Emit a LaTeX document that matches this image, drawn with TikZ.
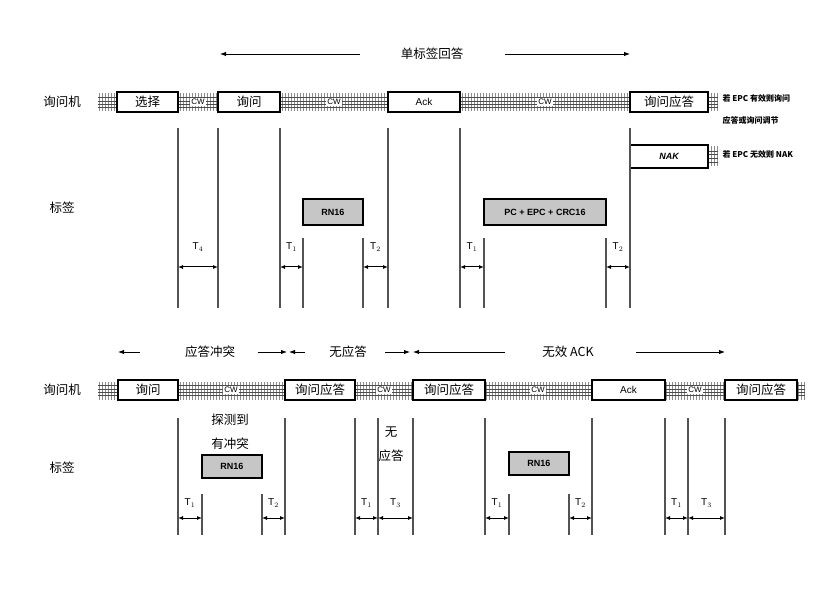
\documentclass[tikz,border=0pt]{standalone}
\usepackage{fontspec}
\setmainfont{Liberation Sans}
\newfontfamily\cjk{Noto Sans CJK SC}
\usetikzlibrary{patterns,arrows.meta}
\begin{document}
\begin{tikzpicture}[x=1pt,y=-1pt,
  msg/.style={draw,line width=1.4pt,fill=white,minimum height=20pt,inner sep=0pt,font=\cjk\fontsize{12.5}{12.5}\selectfont},
  tag/.style={draw,line width=1.4pt,fill=gray!45,inner sep=0pt,font=\bfseries\fontsize{9}{9}\selectfont},
  cw/.style={fill=white,inner sep=1.5pt,font=\fontsize{8}{8}\selectfont},
  vl/.style={gray!65!black,line width=1.1pt},
  dim/.style={{Latex[length=5pt,width=4pt]}-{Latex[length=5pt,width=4pt]},line width=1pt},
  tl/.style={font=\fontsize{10}{10}\selectfont},
  lab/.style={font=\cjk\fontsize{12.5}{12.5}\selectfont},
  ti/.style={-{Latex[length=6pt]},line width=0.9pt}]
\newcommand\myband[4]{%
  \fill[pattern=vertical lines,pattern color=black!45] (#1,#2) rectangle (#3,#4);
  \foreach \yy in {0.2,0.4,0.6,0.8} \draw[black!70,line width=0.5pt] (#1,{#2+\yy*(#4-#2)}) -- (#3,{#2+\yy*(#4-#2)});}
\useasboundingbox (0,0) rectangle (831,599);
% ---------------- top ----------------
\node[lab] (t1) at (432,54) {单标签回答};
\coordinate (ta) at (220,54); \coordinate (tb) at (630,54);
\draw[ti] (360,54) -- (ta); \draw[ti] (505,54) -- (tb);
\node[lab] (r1) at (62,102) {询问机};
\node[lab] (g1) at (62,208) {标签};
\myband{98}{94}{718}{111}
\myband{708}{147}{718}{166}
\node[cw] at (198,102) {CW}; \node[cw] at (334,102) {CW}; \node[cw] at (545,102) {CW};
\node[msg,minimum width=61pt] (a1) at (147.5,102) {选择};
\node[msg,minimum width=62pt] (a2) at (249,102) {询问};
\node[msg,minimum width=72pt,font=\fontsize{10}{10}\selectfont] (a3) at (424,102) {Ack};
\node[msg,minimum width=78pt] (a4) at (669,102) {询问应答};
\node[msg,minimum width=78pt,minimum height=23pt,font=\itshape\bfseries\fontsize{9}{9}\selectfont] (nak) at (669,156.5) {NAK};
\node[anchor=west,font=\cjk\bfseries\fontsize{8}{8}\selectfont] (n1) at (719,98) {若 EPC 有效则询问};
\node[anchor=west,font=\cjk\bfseries\fontsize{8}{8}\selectfont] (n2) at (719,120) {应答或询问调节};
\node[anchor=west,font=\cjk\bfseries\fontsize{8}{8}\selectfont] (n3) at (719,154) {若 EPC 无效则 NAK};
\foreach \x in {178,218,280,388,460,630} \draw[vl] (\x,128) -- (\x,308);
\foreach \x in {303,363,484,606} \draw[vl] (\x,238) -- (\x,308);
\node[tag,minimum width=60pt,minimum height=26pt] (b1) at (333,212) {RN16};
\node[tag,minimum width=122pt,minimum height=26pt] (b2) at (545,212) {PC + EPC + CRC16};
\foreach \a/\b/\s in {178/218/4,280/303/1,363/388/2,460/484/1,606/630/2}{
  \draw[dim] (\a,267) -- (\b,267);
  \node[tl] at ({(\a+\b)/2},247) {T$_\s$};}
% ---------------- bottom ----------------
\node[lab] (c1) at (210,352) {应答冲突};
\node[lab] (c2) at (348,352) {无应答};
\node[lab] (c3) at (568,352) {无效 ACK};
\draw[ti] (140,352) -- (118,352);
\draw[ti] (258,352) -- (287,352); \draw[ti] (305,352) -- (289,352);
\draw[ti] (385,352) -- (410,352); \draw[ti] (505,352) -- (413,352);
\draw[ti] (636,352) -- (725,352);
\node[lab] (r2) at (62,390) {询问机};
\node[lab] (g2) at (62,468) {标签};
\myband{98}{382}{805}{399}
\node[cw] at (231,390) {CW}; \node[cw] at (384,390) {CW}; \node[cw] at (538,390) {CW}; \node[cw] at (695,390) {CW};
\node[msg,minimum width=60pt] (d1) at (148,390) {询问};
\node[msg,minimum width=70pt] (d2) at (320,390) {询问应答};
\node[msg,minimum width=72pt] (d3) at (449,390) {询问应答};
\node[msg,minimum width=73pt,font=\fontsize{10}{10}\selectfont] (d4) at (628.5,390) {Ack};
\node[msg,minimum width=72pt] (d5) at (761,390) {询问应答};
\foreach \x in {178,285,355,378,413,485,592,665,688,725} \draw[vl] (\x,418) -- (\x,535);
\foreach \x in {202,262,509,569} \draw[vl] (\x,494) -- (\x,535);
\node[tag,minimum width=60pt,minimum height=23pt] (e1) at (232,466.5) {RN16};
\node[tag,minimum width=60pt,minimum height=23pt] (e2) at (539,463.5) {RN16};
\node[lab] (x1) at (230,420) {探测到};
\node[lab] (x2) at (230,444) {有冲突};
\node[lab] (x3) at (391,432) {无};
\node[lab] (x4) at (391,456) {应答};
\foreach \a/\b/\s in {178/202/1,262/285/2,355/378/1,378/413/3,485/509/1,569/592/2,665/688/1,688/725/3}{
  \draw[dim] (\a,518) -- (\b,518);
  \node[tl] at ({(\a+\b)/2},503) {T$_\s$};}
\end{tikzpicture}
\end{document}
